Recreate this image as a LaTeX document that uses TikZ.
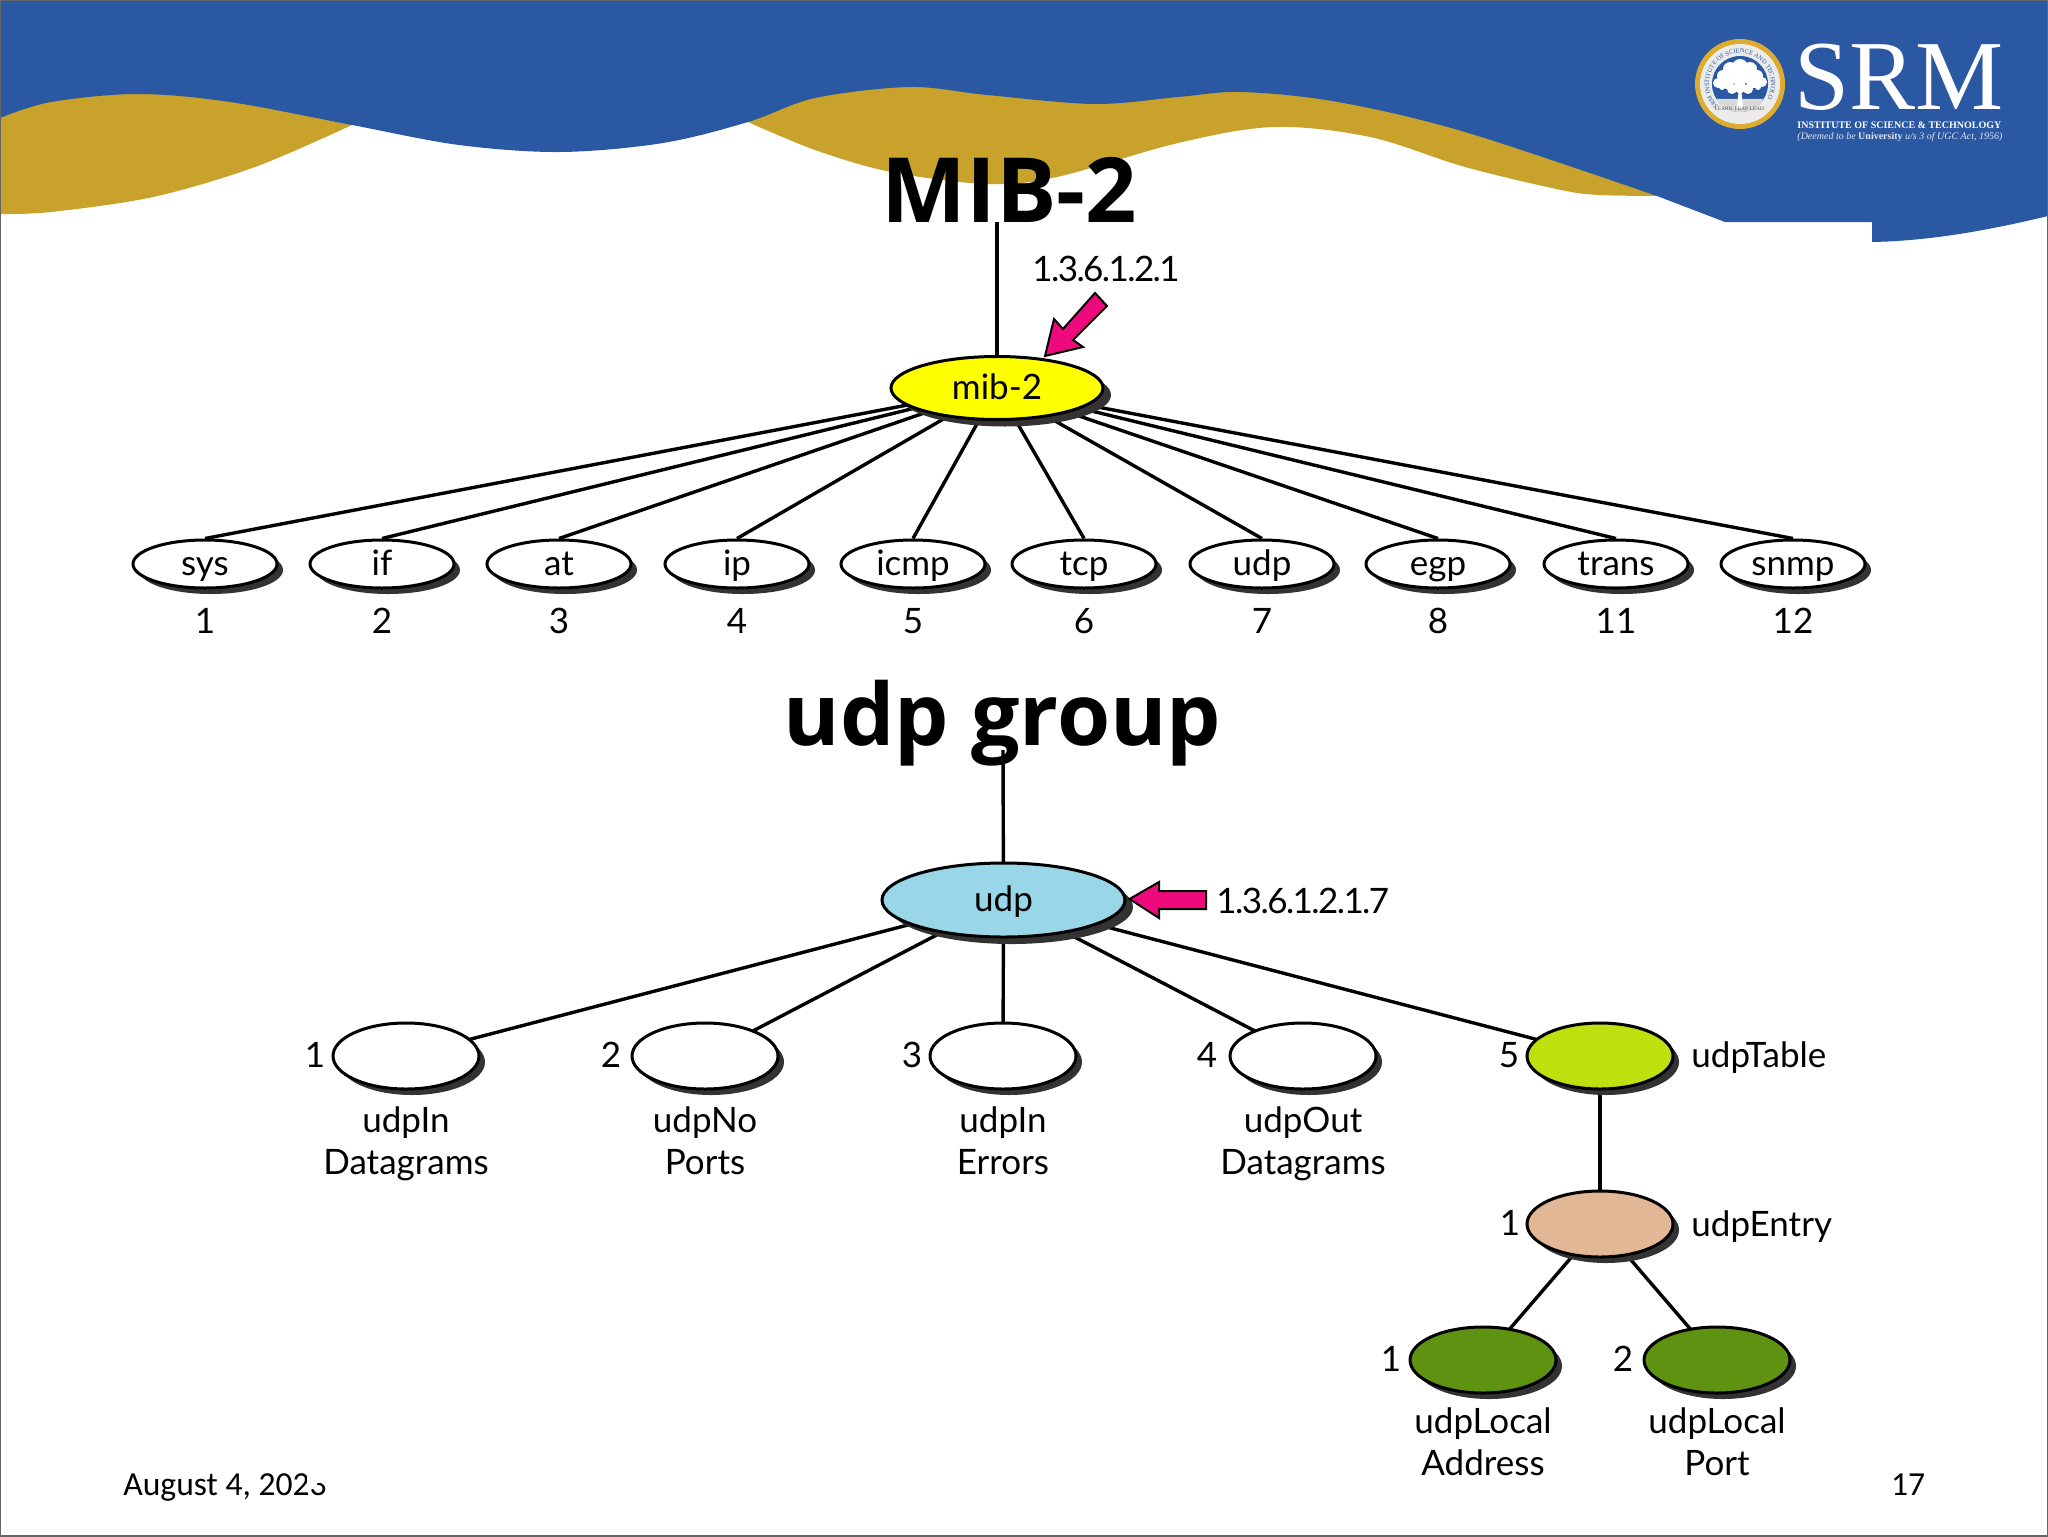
\documentclass[tikz,border=0pt]{standalone}
\usepackage{fontspec}
\setmainfont{Lato}
\newfontfamily\titlefont{Open Sans}
\newfontfamily\datefont{Carlito}
\newfontfamily\logofont{Liberation Serif}
\newfontfamily\pathfont[LetterSpace=-4.5]{Lato}
\usetikzlibrary{shapes.geometric,shadows,decorations.text}
\pgfdeclarelayer{back}
\pgfdeclarelayer{edges}
\pgfsetlayers{back,edges,main}
\definecolor{bandblue}{HTML}{2A58A3}
\definecolor{bandgold}{HTML}{C8A22B}
\definecolor{sealgold}{HTML}{DDAC2F}
\definecolor{shadowgrey}{HTML}{333333}
\definecolor{framegrey}{HTML}{666666}
\definecolor{pointerpink}{HTML}{EE0A7D}
\definecolor{mibyellow}{HTML}{FFFF00}
\definecolor{udpblue}{HTML}{98D6E8}
\definecolor{tablelime}{HTML}{BDE00E}
\definecolor{entrytan}{HTML}{E2B795}
\definecolor{leafgreen}{HTML}{5F9211}
\tikzset{
  oval/.style={ellipse,draw=black,line width=1.5pt,inner sep=0pt,font=\fontsize{17.5}{21}\selectfont,
    text height=13.5pt,text depth=2.5pt},
  mainoval/.style={oval,drop shadow={shadow xshift=4pt,shadow yshift=-3.5pt,opacity=1,fill=shadowgrey}},
  smalloval/.style={oval,minimum width=72pt,minimum height=24pt,fill=white,
    drop shadow={shadow xshift=3pt,shadow yshift=-3pt,opacity=1,fill=shadowgrey}},
  bigoval/.style={oval,minimum width=73pt,minimum height=33pt,
    drop shadow={shadow xshift=3pt,shadow yshift=-3pt,opacity=1,fill=shadowgrey}},
  lab/.style={inner sep=0pt,font=\fontsize{17.5}{21}\selectfont,text height=13.5pt,text depth=2.5pt},
  pathlab/.style={lab,font=\pathfont\fontsize{17.5}{21}\selectfont},
  twolines/.style={inner sep=0pt,anchor=base,font=\fontsize{17.5}{21}\selectfont,align=center},
  heading/.style={inner sep=0pt,anchor=base,font=\titlefont\bfseries\fontsize{44}{50}\selectfont},
  foot/.style={inner sep=0pt,anchor=base,font=\datefont\fontsize{16.8}{19}\selectfont},
  link/.style={line width=1.7pt,black},
  pointer/.style={fill=pointerpink,draw=black,line width=1pt,line join=miter},
  logotext/.style={inner sep=0pt,anchor=base west,text=white}
}
\begin{document}
\begin{tikzpicture}[x=0.5pt,y=-0.5pt]
\useasboundingbox (0,0) rectangle (2048,1536);

\begin{pgfonlayer}{back}
\fill[white] (0,0) rectangle (2048,1536);
\fill[bandgold] (0,80) -- (0,214) -- plot[smooth,tension=.55] coordinates {(0,214) (51,212) (153,197) (255,167) (352,125)} -- (352,80) -- cycle;
\fill[bandgold] (748,80) -- plot[smooth,tension=.55] coordinates {(748,122) (815,150) (891,172) (987,184) (1057,177) (1178,143) (1274,127) (1370,137) (1465,167) (1561,190) (1600,195) (1657,196)} -- (1657,80) -- cycle;
\fill[bandblue] (0,0) -- (2048,0) -- (2048,216) .. controls (1990,230) and (1930,241) .. (1872,242) -- (1872,222) -- (1725,222) -- (1657,196) -- plot[smooth,tension=.55] coordinates {(1657,196) (1465,132) (1338,102) (1242,92) (1178,97) (1095,104) (987,95) (910,87) (815,98) (748,122) (663,143) (561,152) (459,145) (352,125) (230,102) (138,94) (51,102) (0,118)} -- cycle;
\end{pgfonlayer}

\begin{scope}[shift={(1740,84)},x=0.5pt,y=0.5pt]
\fill[sealgold] (0,0) circle (45);
\fill[white!92!black] (0,0) circle (40);
\fill[bandblue] (0,0) circle (28);
\fill[white!85!black] (-24,-15) arc (212:328:28) -- cycle;
\fill[white] (-3,-24) -- (-1.5,-8) -- (1.5,-8) -- (3,-24) -- cycle;
\foreach \tx/\ty/\tr in {0/17/8,-10/15/7,10/15/7,-17/8/6,17/8/6,-22/1/5,22/2/5,-13/2/7,13/3/7,-4/7/7,5/8/7,-8/-5/5,8/-5/5,0/-3/6,-18/-3/3,18/-3/3}
  \fill[white] (\tx,\ty) circle (\tr);
\path[decorate,decoration={text along path,text align=center,text color=bandblue,
  text={|\logofont\fontsize{3.2}{4}\selectfont|SRM INSTITUTE OF SCIENCE AND TECHNOLOGY}}]
  (212:31) arc (212:-32:31);
\node[inner sep=0pt,text=black!70,font=\logofont\fontsize{2.6}{3}\selectfont] (sealmotto) at (0,-25) {LEARN. LEAP. LEAD.};
\end{scope}
\node[logotext,font=\logofont\fontsize{49.5}{50}\selectfont] (srm) at (1794,110) {SRM};
\node[logotext,font=\logofont\bfseries\fontsize{5}{6}\selectfont] (srmname) at (1797,128) {INSTITUTE OF SCIENCE \& TECHNOLOGY};
\node[logotext,text=white!85!bandblue,font=\logofont\itshape\fontsize{5}{6}\selectfont] (srmnote) at (1797,140) {(Deemed to be {\upshape\bfseries University} u/s 3 of UGC Act, 1956)};

\node[heading,font=\titlefont\bfseries\fontsize{45}{50}\selectfont] (mibtitle) at (1009.5,222) {MIB-2};
\node[heading,font=\titlefont\bfseries\fontsize{43}{50}\selectfont] (udptitle) at (1002.5,745) {udp group};
\coordinate (mibtop) at (997,222);
\coordinate (udptop) at (1003,750);

\node[mainoval,fill=mibyellow,minimum width=106pt,minimum height=31.5pt] (mib) at (997,388) {mib-2};
\node[smalloval] (sys) at (205,564) {sys};
\node[smalloval] (if) at (382,564) {if};
\node[smalloval] (at) at (559,564) {at};
\node[smalloval] (ip) at (737,564) {ip};
\node[smalloval] (icmp) at (913,564) {icmp};
\node[smalloval] (tcp) at (1084,564) {tcp};
\node[smalloval] (udpgroup) at (1262,564) {udp};
\node[smalloval] (egp) at (1438,564) {egp};
\node[smalloval] (trans) at (1616,564) {trans};
\node[smalloval] (snmp) at (1793,564) {snmp};

\node[lab] (num_sys) at (205,622) {1};
\node[lab] (num_if) at (382,622) {2};
\node[lab] (num_at) at (559,622) {3};
\node[lab] (num_ip) at (737,622) {4};
\node[lab] (num_icmp) at (913,622) {5};
\node[lab] (num_tcp) at (1084,622) {6};
\node[lab] (num_udp) at (1262,622) {7};
\node[lab] (num_egp) at (1438,622) {8};
\node[lab] (num_trans) at (1616,622) {11};
\node[lab] (num_snmp) at (1793,622) {12};

\node[pathlab] (mibpath) at (1106,270) {1.3.6.1.2.1};
\draw[pointer] (1045,356) -- (1054,319) -- (1063,329) -- (1095,293) -- (1107,306) -- (1073,340) -- (1083,347) -- cycle;

\node[mainoval,fill=udpblue,minimum width=121.5pt,minimum height=37pt] (udp) at (1003.5,900) {udp};
\node[pathlab,anchor=west] (udppath) at (1216,902) {1.3.6.1.2.1.7};
\draw[pointer] (1129.5,899) -- (1159,882) -- (1159,891) -- (1206,891) -- (1206,909) -- (1159,909) -- (1159,918) -- cycle;

\node[bigoval,fill=white] (indata) at (406,1056) {};
\node[bigoval,fill=white] (noports) at (705,1056) {};
\node[bigoval,fill=white] (inerrors) at (1003,1056) {};
\node[bigoval,fill=white] (outdata) at (1303,1056) {};
\node[bigoval,fill=tablelime] (table) at (1600,1056) {};
\node[bigoval,fill=entrytan] (entry) at (1600,1224) {};
\node[bigoval,fill=leafgreen] (localaddr) at (1483,1360) {};
\node[bigoval,fill=leafgreen] (localport) at (1717,1360) {};

\node[lab] (num_indata) at (315,1056) {1};
\node[lab] (num_noports) at (611,1056) {2};
\node[lab] (num_inerrors) at (912,1056) {3};
\node[lab] (num_outdata) at (1207,1056) {4};
\node[lab] (num_table) at (1509,1056) {5};
\node[lab] (num_entry) at (1510,1224) {1};
\node[lab] (num_localaddr) at (1391,1360) {1};
\node[lab] (num_localport) at (1623,1360) {2};

\node[twolines] (txt_indata) at (406,1174) {udpIn\\Datagrams};
\node[twolines] (txt_noports) at (705,1174) {udpNo\\Ports};
\node[twolines] (txt_inerrors) at (1003,1174) {udpIn\\Errors};
\node[twolines] (txt_outdata) at (1303,1174) {udpOut\\Datagrams};
\node[lab,anchor=west] (txt_table) at (1691,1056) {udpTable};
\node[lab,anchor=west] (txt_entry) at (1691,1225) {udpEntry};
\node[twolines] (txt_localaddr) at (1483,1475) {udpLocal\\Address};
\node[twolines] (txt_localport) at (1717,1475) {udpLocal\\Port};

\node[foot,anchor=base west] (date) at (123,1495) {August 4, 2023};
\fill[white] (307,1455) rectangle (340,1483);
\node[foot] (pagenum) at (1908,1495) {17};

\begin{pgfonlayer}{edges}
\draw[link] (mibtop) -- (mib.center);
\draw[link] (mib.center) -- (sys.north);
\draw[link] (mib.center) -- (if.north);
\draw[link] (mib.center) -- (at.north);
\draw[link] (mib.center) -- (ip.north);
\draw[link] (mib.center) -- (icmp.north);
\draw[link] (mib.center) -- (tcp.north);
\draw[link] (mib.center) -- (udpgroup.north);
\draw[link] (mib.center) -- (egp.north);
\draw[link] (mib.center) -- (trans.north);
\draw[link] (mib.center) -- (snmp.north);

\draw[link] (udptop) -- (udp.center);
\draw[link] (udp.center) -- (indata.center);
\draw[link] (udp.center) -- (noports.center);
\draw[link] (udp.center) -- (inerrors.center);
\draw[link] (udp.center) -- (outdata.center);
\draw[link] (udp.center) -- (table.center);
\draw[link] (table.center) -- (entry.center);
\draw[link] (entry.center) -- (localaddr.center);
\draw[link] (entry.center) -- (localport.center);
\end{pgfonlayer}

\draw[framegrey,line width=1pt] (0,0) rectangle (2048,1536);
\end{tikzpicture}
\end{document}
